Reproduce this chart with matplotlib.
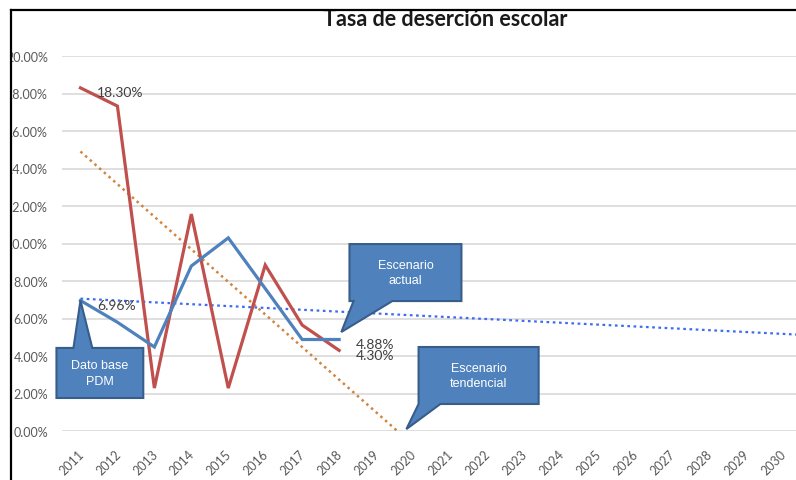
import matplotlib.pyplot as plt
from matplotlib.patches import Polygon, Rectangle
from matplotlib.lines import Line2D
from matplotlib.ticker import FuncFormatter
from matplotlib.transforms import ScaledTranslation
import numpy as np

# Tasa de deserción escolar (%), serie observada y escenario actual
years = ['2011', '2012', '2013', '2014', '2015', '2016', '2017', '2018', '2019', '2020',
         '2021', '2022', '2023', '2024', '2025', '2026', '2027', '2028', '2029', '2030']
desercion = [18.30, 17.33, 2.29, 11.57, 2.29, 8.85, 5.65, 4.30]
escenario = [6.96, 5.80, 4.48, 8.80, 10.30, 7.60, 4.88, 4.88]

RED = '#C0504D'
BLUE = '#4F81BD'
BOX_EDGE = '#385D8A'
GRAY = '#595959'

W, H = 796, 481
fig = plt.figure(figsize=(W / 100, H / 100), dpi=100)
ax = fig.add_axes([62 / W, (H - 432) / H, 739 / W, 375 / H])

x_obs = np.arange(len(desercion))

# linear trendlines, projected forward over the whole category range
x_proj = np.linspace(0, len(years) - 0.5, 200)
red_fit = np.polyfit(x_obs, desercion, 1)
blue_fit = np.polyfit(x_obs, escenario, 1)
ax.plot(x_proj, np.polyval(red_fit, x_proj), color='#D0843F', lw=1.8,
        linestyle=(0, (1, 1.5)), zorder=2)
ax.plot(x_proj, np.polyval(blue_fit, x_proj), color='#3D6BF2', lw=1.6,
        linestyle=(0, (1.2, 1.6)), zorder=2)

ax.plot(x_obs, desercion, color=RED, lw=2.3, zorder=3, solid_joinstyle='miter')
ax.plot(x_obs, escenario, color=BLUE, lw=2.3, zorder=4, solid_joinstyle='miter')

# data labels
label_font = dict(family=['Lato', 'DejaVu Sans'], fontsize=10, color='#404040')
for xi, v in [(0, desercion[0]), (7, desercion[7])]:
    ax.annotate(f'{v:.2f}%', (xi, v), xytext=(12, -3), textcoords='offset points',
                ha='left', va='center', zorder=6, **label_font)
for xi, v in [(0, escenario[0]), (7, escenario[7])]:
    ax.annotate(f'{v:.2f}%', (xi, v), xytext=(12, -3), textcoords='offset points',
                ha='left', va='center', zorder=6, **label_font)


def callout(box, base, apex, side, text):
    x0, x1, y0, y1 = box
    b1, b2 = base
    if side == 'bottom':
        pts = [(x0, y1), (x1, y1), (x1, y0), (b2, y0), apex, (b1, y0), (x0, y0)]
    else:
        pts = [(x0, y0), (x1, y0), (x1, y1), (b2, y1), apex, (b1, y1), (x0, y1)]
    ax.add_patch(Polygon(pts, closed=True, facecolor=BLUE, edgecolor=BOX_EDGE,
                         lw=1.5, clip_on=False, zorder=7))
    ax.text((x0 + x1) / 2, (y0 + y1) / 2, text, ha='center', va='center',
            color='white', fontsize=9, linespacing=1.4, zorder=8,
            family=['Liberation Sans', 'DejaVu Sans'])


callout((-0.65, 1.70, 1.76, 4.43), (-0.19, 0.32), (0, escenario[0]), 'top',
        'Dato base\nPDM')
callout((7.28, 10.31, 6.93, 9.97), (7.39, 8.44), (7.06, 5.28), 'bottom',
        'Escenario\nactual')
callout((9.15, 12.40, 1.44, 4.48), (9.15, 9.74), (8.82, 0.10), 'bottom',
        'Escenario\ntendencial')

ax.set_xlim(-0.5, len(years) - 0.5)
ax.set_ylim(0, 20)
ax.set_yticks(np.arange(0, 21, 2))
ax.yaxis.set_major_formatter(FuncFormatter(lambda v, _: f'{v:.2f}%'))
ax.set_xticks(range(len(years)))
ax.set_xticklabels(years, rotation=45, ha='right', va='top', rotation_mode='anchor')
ax.tick_params(axis='y', length=0, pad=10, labelsize=9, labelcolor=GRAY)
ax.tick_params(axis='x', length=0, pad=12, labelsize=9, labelcolor=GRAY)
shift = ScaledTranslation(-3 / 100, 0, fig.dpi_scale_trans)
for lbl in ax.get_xticklabels():
    lbl.set_transform(lbl.get_transform() + shift)
for lbl in ax.get_xticklabels() + ax.get_yticklabels():
    lbl.set_family(['Lato', 'DejaVu Sans'])
ax.yaxis.grid(True, color='#D9D9D9', lw=1.2)
ax.set_axisbelow(True)
for s in ax.spines.values():
    s.set_visible(False)

fig.text(445 / W, 1 - 26 / H, 'Tasa de deserción escolar', ha='center', va='baseline',
         fontsize=15.5, fontweight='bold', color='#1A1A1A', family=['Lato', 'DejaVu Sans'],
         zorder=5)

# chart frame: left and top edges, with everything beyond them blanked out
fig.add_artist(Rectangle((0, 0), 12.5 / W, 1, transform=fig.transFigure,
                         facecolor='white', edgecolor='none', zorder=15))
fig.add_artist(Rectangle((0, 1 - 10 / H), 1, 10 / H, transform=fig.transFigure,
                         facecolor='white', edgecolor='none', zorder=15))
fig.add_artist(Line2D([10.5 / W, 10.5 / W], [0, 1 - 10.5 / H], transform=fig.transFigure,
                      color='black', lw=1.6, zorder=16))
fig.add_artist(Line2D([10.5 / W, 1], [1 - 10.5 / H, 1 - 10.5 / H], transform=fig.transFigure,
                      color='black', lw=1.6, zorder=16))

fig.savefig('out.png', dpi=100)
